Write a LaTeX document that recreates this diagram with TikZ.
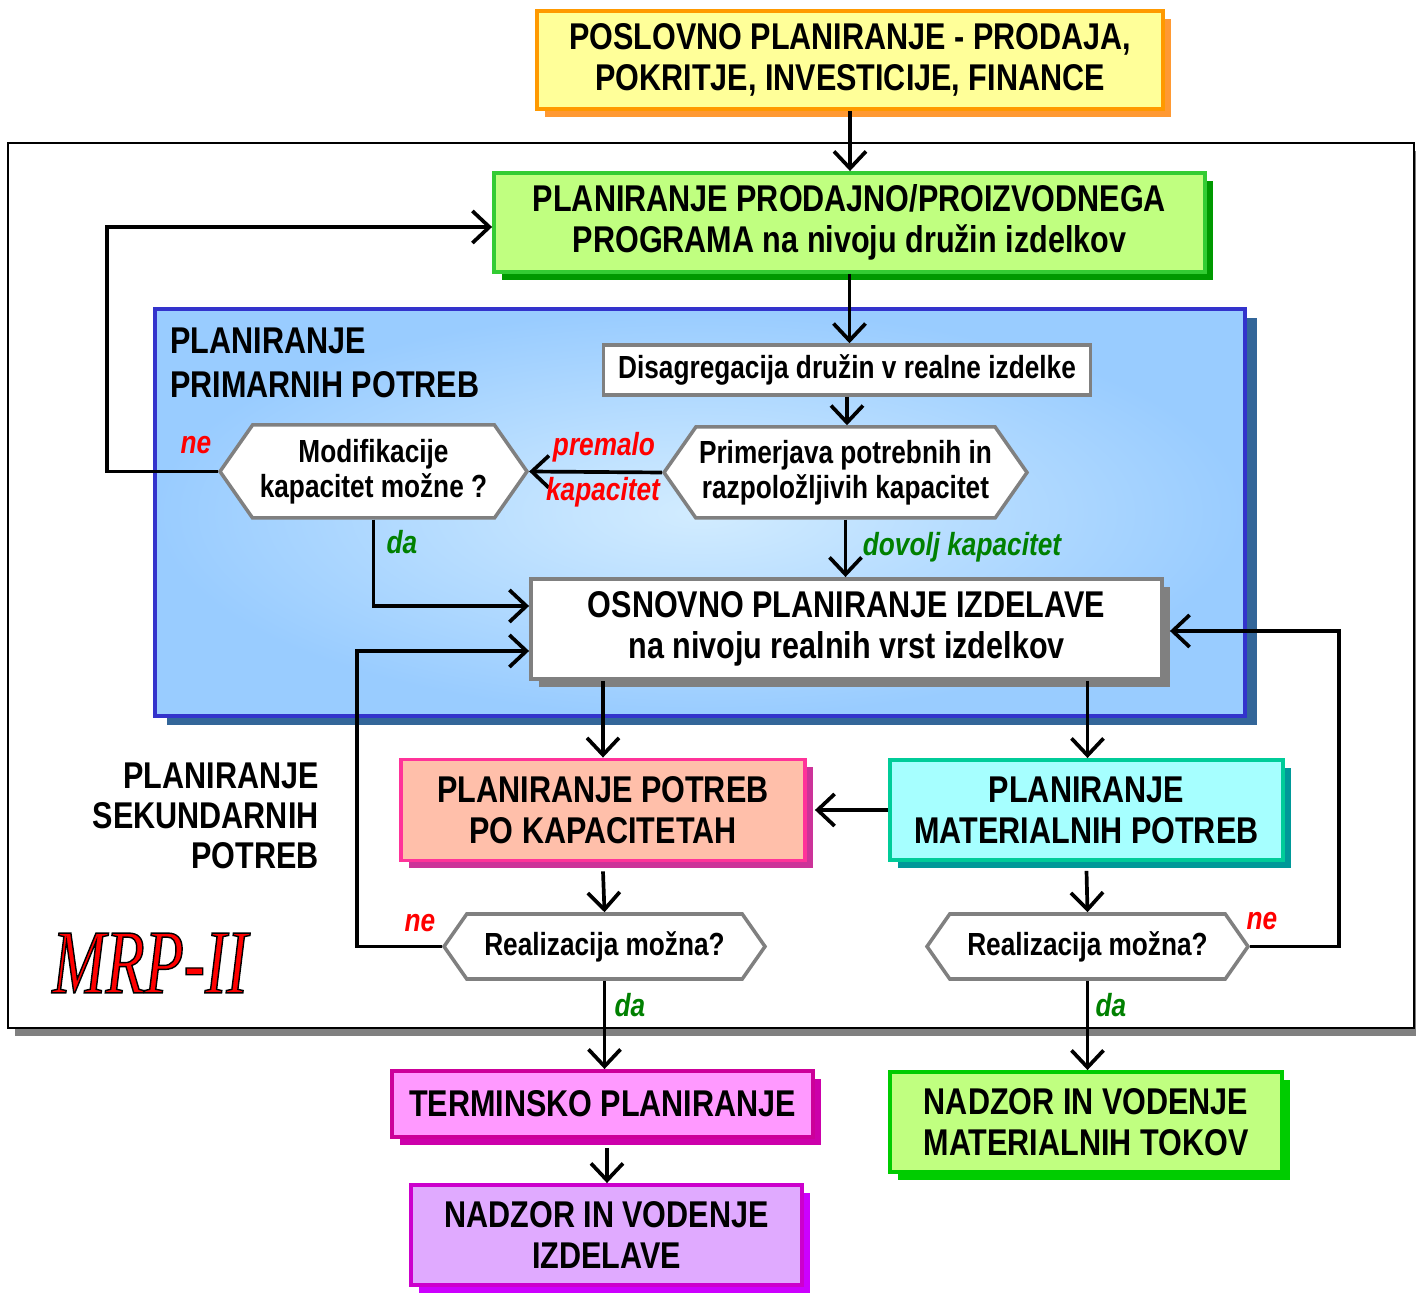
\documentclass[tikz,border=0pt]{standalone}
\usepackage{fontspec}
\setmainfont{Liberation Sans}[FakeStretch=0.82]
\newfontfamily\mrpfont{Liberation Serif}[FakeStretch=0.7]
\usetikzlibrary{shapes.symbols,shadows,arrows.meta}

\definecolor{rumena}{HTML}{FFFF99}
\definecolor{oranzna}{HTML}{FF9900}
\definecolor{oranznasenca}{HTML}{FF9933}
\definecolor{zelena}{HTML}{C0FF80}
\definecolor{zelenrob}{HTML}{33CC33}
\definecolor{zelensenca}{HTML}{009900}
\definecolor{svmodra}{HTML}{99CCFF}
\definecolor{sredmodra}{HTML}{D2ECFF}
\definecolor{modrob}{HTML}{3333CC}
\definecolor{modsenca}{HTML}{336699}
\definecolor{losos}{HTML}{FFBFAA}
\definecolor{rozrob}{HTML}{FF3399}
\definecolor{rozsenca}{HTML}{CC3399}
\definecolor{cian}{HTML}{A6FFFF}
\definecolor{cianrob}{HTML}{00CC99}
\definecolor{ciansenca}{HTML}{009999}
\definecolor{roza}{HTML}{FF99FF}
\definecolor{rozarob}{HTML}{CC0099}
\definecolor{rozasenca}{HTML}{CC00AA}
\definecolor{vijola}{HTML}{E0AAFF}
\definecolor{vijrob}{HTML}{CC00CC}
\definecolor{vijsenca}{HTML}{CC00FF}
\definecolor{sivrob}{HTML}{808080}
\definecolor{temnozel}{HTML}{008000}

\newcommand{\velik}{\fontsize{10.6}{11.6}\selectfont\bfseries}
\newcommand{\mali}{\fontsize{9.1}{10}\selectfont\bfseries}

\begin{document}
\begin{tikzpicture}[x=0.1mm,y=-0.1mm,
blok/.style={draw, line width=1.1pt, align=center, inner sep=0pt, font=\velik},
senca/.style={general shadow={fill=#1, shadow xshift=0.8mm, shadow yshift=-0.8mm}},
belo/.style={draw=sivrob, fill=white, line width=1pt, align=center, inner sep=0pt, font=\mali},
odlocitev/.style={belo, signal, signal to=west and east, signal pointer angle=110},
pus/.style={-{Straight Barb[length=1.7mm,width=3.2mm]}, line width=1.05pt},
ne/.style={text=red, font=\mali\itshape},
da/.style={text=temnozel, font=\mali\itshape}
]
\useasboundingbox (0,0) rectangle (1416,1293);

% okvir MRP-II
\node[draw, line width=0.8pt, fill=white, minimum width=140.6mm, minimum height=88.5mm,
  general shadow={fill=sivrob, shadow xshift=0.7mm, shadow yshift=-0.8mm}] (okvir) at (711,585.5) {};

% primarne potrebe
\node[draw=modrob, line width=1.1pt, inner color=sredmodra, outer color=svmodra,
  minimum width=109mm, minimum height=40.7mm,
  general shadow={fill=modsenca, shadow xshift=1.2mm, shadow yshift=-0.9mm}] (primar) at (700,512.5) {};

\node[blok, fill=rumena, draw=oranzna, senca=oranznasenca, minimum width=62.6mm, minimum height=9.8mm] (posl) at (850,60)
  {POSLOVNO PLANIRANJE - PRODAJA,\\POKRITJE, INVESTICIJE, FINANCE};
\node[blok, fill=zelena, draw=zelenrob, senca=zelensenca, minimum width=71.1mm, minimum height=9.9mm] (ppp) at (849.5,222.5)
  {PLANIRANJE PRODAJNO/PROIZVODNEGA\\PROGRAMA na nivoju družin izdelkov};

\node[anchor=west, align=left, font=\velik\fontsize{10.6}{12.5}\selectfont] (naslprim) at (158,363)
  {PLANIRANJE\\PRIMARNIH POTREB};

\node[belo, minimum width=48.7mm, minimum height=5mm] (disag) at (847,370)
  {Disagregacija družin v realne izdelke};
\node[odlocitev, minimum width=36.3mm, minimum height=9.1mm] (prim) at (845.5,472.5)
  {Primerjava potrebnih in\\razpoložljivih kapacitet};
\node[odlocitev, minimum width=30.7mm, minimum height=9.3mm] (modif) at (373.5,471.5)
  {Modifikacije\\kapacitet možne ?};

\node[blok, fill=white, draw=sivrob, senca=sivrob, minimum width=63.1mm, minimum height=10mm] (osn) at (846.5,629)
  {OSNOVNO PLANIRANJE IZDELAVE\\na nivoju realnih vrst izdelkov};

\node[anchor=east, align=right, font=\velik\fontsize{10.6}{11.4}\selectfont] (naslsek) at (331,816)
  {PLANIRANJE\\SEKUNDARNIH\\POTREB};

\node[blok, fill=losos, draw=rozrob, senca=rozsenca, minimum width=40.4mm, minimum height=10.1mm] (pkap) at (603,810)
  {PLANIRANJE POTREB\\PO KAPACITETAH};
\node[blok, fill=cian, draw=cianrob, senca=ciansenca, minimum width=39.3mm, minimum height=10mm] (mat) at (1086.5,810)
  {PLANIRANJE\\MATERIALNIH POTREB};

\node[odlocitev, minimum width=32.1mm, minimum height=6.5mm] (real1) at (604.5,946.5) {Realizacija možna?};
\node[odlocitev, minimum width=32.1mm, minimum height=6.5mm] (real2) at (1087.5,946.5) {Realizacija možna?};

\node[blok, fill=roza, draw=rozarob, senca=rozasenca, minimum width=42.1mm, minimum height=6.6mm] (term) at (602.5,1104)
  {TERMINSKO PLANIRANJE};
\node[blok, fill=vijola, draw=vijrob, senca=vijsenca, minimum width=39.1mm, minimum height=10mm] (nizd) at (606.5,1235)
  {NADZOR IN VODENJE\\IZDELAVE};
\node[blok, fill=zelena, draw=green!80!black, senca=green!80!black, minimum width=39.2mm, minimum height=10mm] (nmat) at (1086,1122)
  {NADZOR IN VODENJE\\MATERIALNIH TOKOV};

\node[text=red, font=\mrpfont\itshape\fontsize{26}{26}\selectfont] (mrp) at (150,963)
  {\special{pdf:literal 0 G 2 Tr 0.4 w}MRP-II\special{pdf:literal 0 Tr}};

% povezave
\draw[pus] (posl.south) -- (posl.south |- ppp.north);
\draw[pus] (ppp.south) -- (ppp.south |- disag.north);
\draw[pus] (disag.south) -- (disag.south |- prim.north);
\draw[pus] (prim.west) -- (modif.east);
\draw[pus] (modif.west) -- ++(-111,0) |- ([yshift=-0.45mm]ppp.west);
\draw[pus] (modif.south) |- ([yshift=2.3mm]osn.west);
\draw[pus] (prim.south) -- (prim.south |- osn.north);
\draw[pus] (pkap.north |- osn.south) -- (pkap.north);
\draw[pus] ([xshift=0.1mm]mat.north |- osn.south) -- ([xshift=0.1mm]mat.north);
\draw[pus] (mat.west) -- ([xshift=0.8mm]pkap.east);
\draw[pus] ([yshift=-0.9mm]pkap.south) -- (real1.north);
\draw[pus] ([yshift=-0.9mm]mat.south) -- (real2.north);
\draw[pus] (real1.west) -- ++(-85,0) |- ([yshift=-2.2mm]osn.west);
\draw[pus] (real2.east) -- ++(89,0) |- ([xshift=0.6mm,yshift=-0.2mm]osn.east);
\draw[pus] (real1.south) -- (real1.south |- term.north);
\draw[pus] (real2.south) -- (real2.south |- nmat.north);
\draw[pus] ([xshift=0.45mm,yshift=-0.9mm]term.south) -- ([xshift=0.45mm]term.south |- nizd.north);

% oznake
\node[ne] (lpremalo) at (604,447) {premalo};
\node[ne] (lkap) at (603,492) {kapacitet};
\node[ne] (lne1) at (196,445) {ne};
\node[da] (lda1) at (402,542) {da};
\node[da] (ldovolj) at (962,547) {dovolj kapacitet};
\node[ne] (lne2) at (420,923) {ne};
\node[ne] (lne3) at (1262,921) {ne};
\node[da] (lda2) at (630,1005) {da};
\node[da] (lda3) at (1111,1005) {da};
\end{tikzpicture}
\end{document}
